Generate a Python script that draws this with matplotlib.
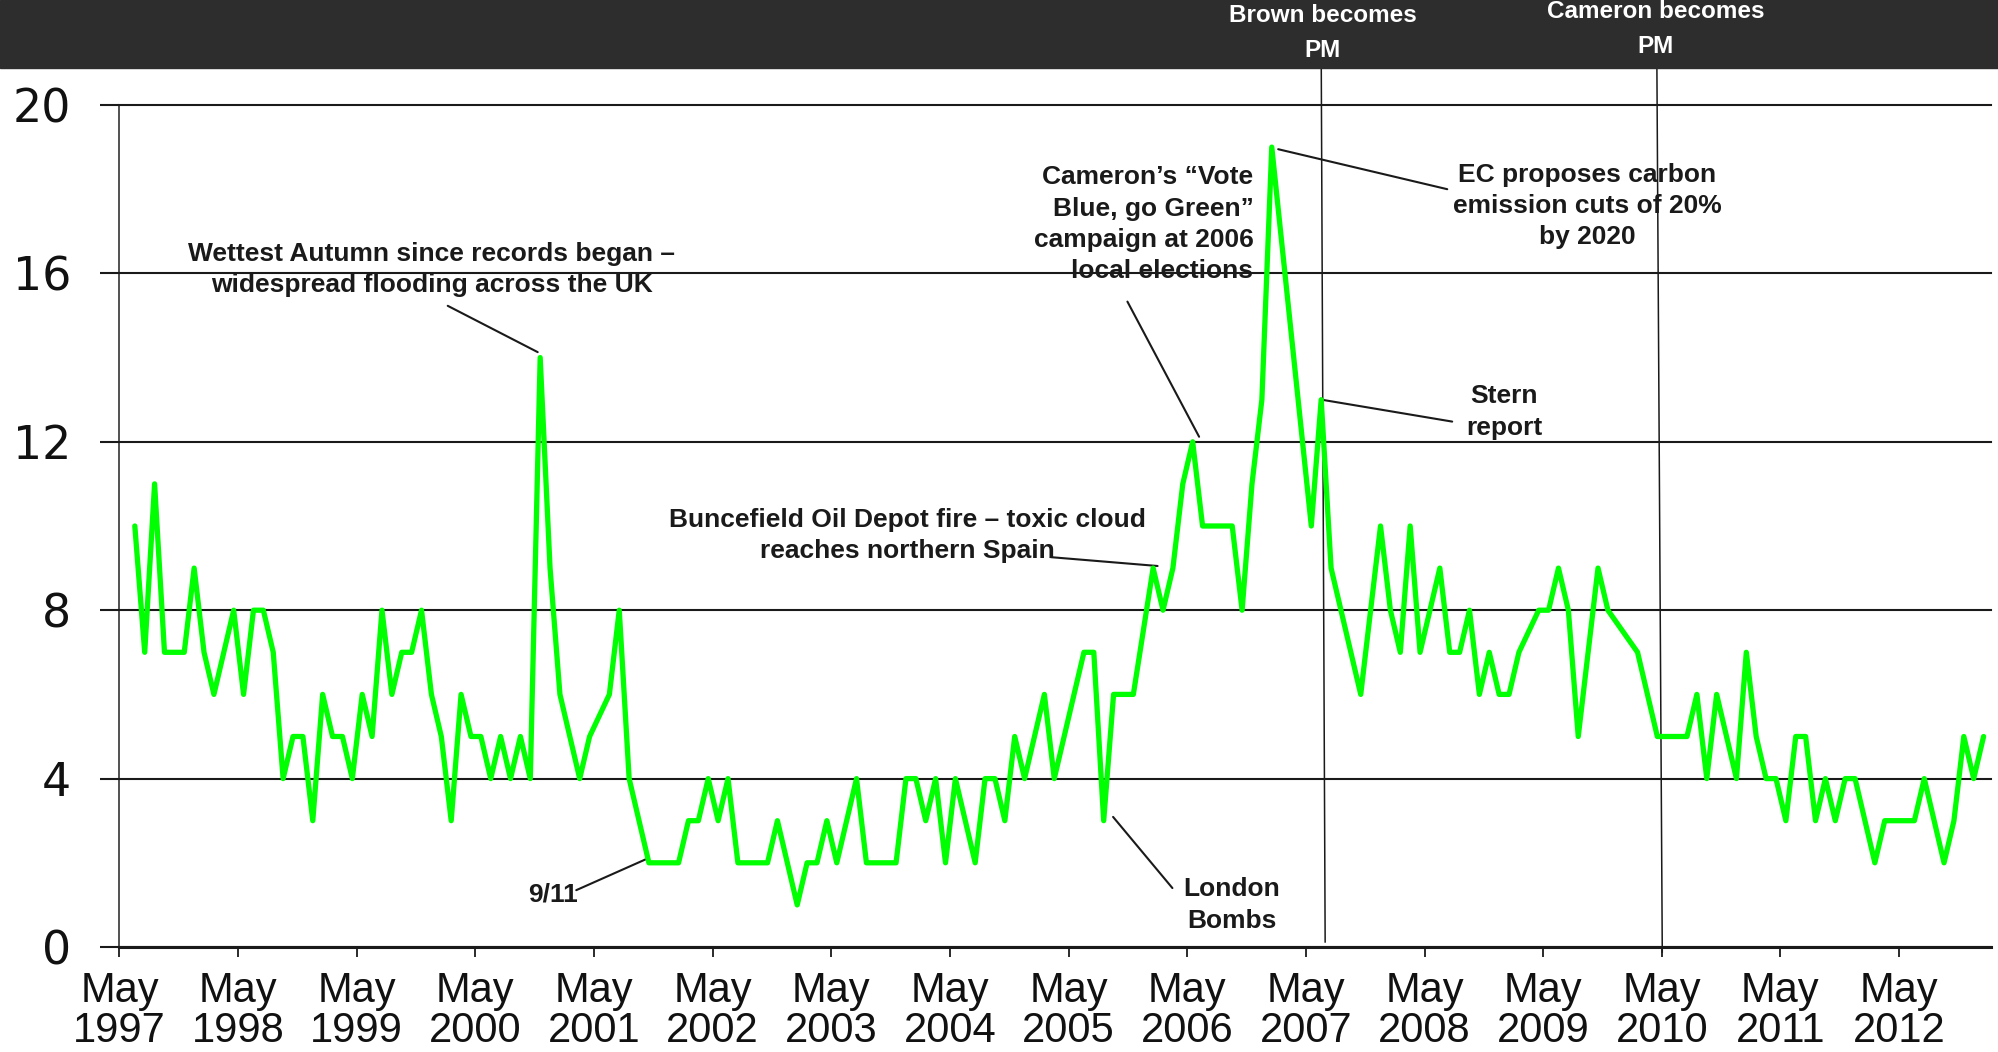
import matplotlib.pyplot as plt
import numpy as np
from matplotlib.patches import Rectangle
from matplotlib.transforms import ScaledTranslation

plt.rcParams["font.family"] = ["Liberation Sans", "DejaVu Sans"]

# Monthly readings (%), first one just after May 1997.
# None = month with no separate vertex visible on the line.
share_pct = [
    10, 7, 11, 7, 7, 7, 9, 7, 6, 7,
    8, 6, 8, 8, 7, 4, 5, 5, 3, 6,
    5, 5, 4, 6, 5, 8, 6, 7, 7, 8,
    6, 5, 3, 6, 5, 5, 4, 5, 4, 5,
    4, 14, 9, 6, None, 4, 5, None, 6, 8,
    4, 3, 2, 2, 2, 2, 3, 3, 4, 3,
    4, 2, 2, 2, 2, 3, 2, 1, 2, 2,
    3, 2, None, 4, 2, 2, 2, 2, 4, 4,
    3, 4, 2, 4, None, 2, 4, 4, 3, 5,
    4, None, 6, 4, None, 6, 7, 7, 3, 6,
    6, 6, None, 9, 8, 9, 11, 12, 10, 10,
    10, 10, 8, 11, 13, 19, None, None, None, 10,
    13, 9, None, None, 6, None, 10, 8, 7, 10,
    7, 8, 9, 7, 7, 8, 6, 7, 6, 6,
    7, None, 8, 8, 9, 8, 5, None, 9, 8,
    None, None, 7, None, 5, 5, 5, 5, 6, 4,
    6, 5, 4, 7, 5, 4, 4, 3, 5, 5,
    3, 4, 3, 4, 4, None, 2, 3, 3, 3,
    3, 4, None, 2, 3, 5, 4, 5,
]
first_month = 1.55  # months after the May 1997 tick

tick_years = list(range(1997, 2013))
tick_labels = [f"May\n{y}" for y in tick_years]
y_levels = [0, 4, 8, 12, 16, 20]

# (label, x months, y value, ha, leader start, leader end)
events = [
    ("Wettest Autumn since records began \u2013\nwidespread flooding across the UK",
     31.6, 16.1, "center", (33.2, 15.23), (42.3, 14.13)),
    ("9/11", 43.8, 1.24, "center", (46.2, 1.35), (53.2, 2.08)),
    ("Buncefield Oil Depot fire \u2013 toxic cloud\nreaches northern Spain",
     79.7, 9.78, "center", (94.2, 9.26), (105.0, 9.05)),
    ("London\nBombs", 112.5, 1.0, "center", (100.5, 3.09), (106.5, 1.40)),
    ("Cameron\u2019s \u201cVote\nBlue, go Green\u201d\ncampaign at 2006\nlocal elections",
     114.7, 17.17, "right", (101.95, 15.33), (109.2, 12.12)),
    ("EC proposes carbon\nemission cuts of 20%\nby 2020",
     148.45, 17.6, "center", (117.2, 18.95), (134.3, 18.0)),
    ("Stern\nreport", 140.06, 12.71, "center", (121.85, 12.99), (134.8, 12.48)),
]

# PM changes: label, line top/bottom in months, banner text position
pm_changes = [
    ("Brown becomes\nPM", (121.55, 121.95), (21.3, 0.12), (0.6618, 0.9685)),
    ("Cameron becomes\nPM", (155.5, 156.05), (21.12, -0.12), (0.8284, 0.9725)),
]

W, H = 1999, 1052
fig = plt.figure(figsize=(W / 100, H / 100), dpi=100)
fig.patches.append(Rectangle((0, 1 - 68 / H), 1, 68 / H, transform=fig.transFigure,
                             color="#2d2d2d", zorder=0))

ax = fig.add_axes([119.5 / W, 105 / H, (1991 - 119.5) / W, (947 - 105) / H])

vals = np.array([np.nan if v is None else v for v in share_pct], dtype=float)
months = first_month + np.arange(len(vals))
keep = ~np.isnan(vals)
ax.plot(months[keep], vals[keep], color="#00ff00", lw=3.8,
        solid_joinstyle="round", solid_capstyle="round", zorder=5)

ax.set_xlim(0, 189.3)
ax.set_ylim(0, 20)
ax.set_yticks(y_levels)
ax.set_xticks(np.arange(len(tick_years)) * 12)
ax.set_xticklabels(tick_labels, fontsize=30, linespacing=0.98, color="#111111")
shift = ScaledTranslation(4 / 100, 0, fig.dpi_scale_trans)
for lbl in ax.get_xticklabels():
    lbl.set_transform(lbl.get_transform() + shift)
for lbl in ax.get_yticklabels():
    lbl.set_fontsize(33)
    lbl.set_family("DejaVu Sans")
    lbl.set_color("#111111")

ax.yaxis.grid(True, color="#1a1a1a", lw=1.5)
ax.set_axisbelow(False)
for gl in ax.get_ygridlines():
    gl.set_clip_on(False)

ax.tick_params(axis="y", length=14, width=1.5, color="#1a1a1a", pad=21)
ax.tick_params(axis="x", length=7.5, width=1.3, color="#1a1a1a", pad=10)
for side in ("top", "right"):
    ax.spines[side].set_visible(False)
ax.spines["left"].set_linewidth(1.2)
ax.spines["left"].set_color("#333333")
ax.spines["bottom"].set_linewidth(2.2)
ax.spines["bottom"].set_color("#1a1a1a")

for label, tx, ty, ha, start, end in events:
    ax.text(tx, ty, label, ha=ha, va="center", multialignment=ha,
            fontsize=19, fontweight="bold", color="#1a1a1a",
            linespacing=1.38, zorder=1, clip_on=False)
    ax.annotate("", xy=end, xytext=start, annotation_clip=False,
                arrowprops=dict(arrowstyle="-", color="#1a1a1a", lw=1.5,
                                shrinkA=0, shrinkB=0), zorder=4)

for label, xs, ys, (fx, fy) in pm_changes:
    ax.plot(xs, ys, color="#1a1a1a", lw=1.1, clip_on=False, zorder=4)
    fig.text(fx, fy, label, ha="center", va="center", color="white",
             fontsize=17.5, fontweight="bold", linespacing=1.66)

fig.savefig("out.png", dpi=100)
